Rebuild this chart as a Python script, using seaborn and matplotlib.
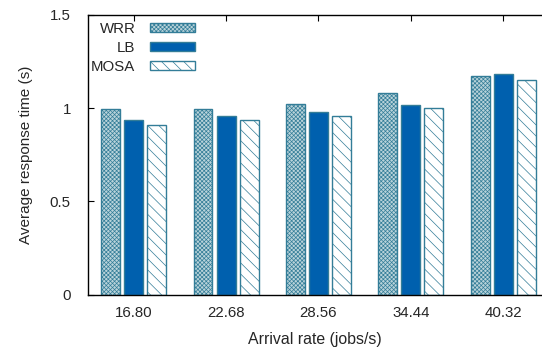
import matplotlib
matplotlib.use("Agg")
import matplotlib.pyplot as plt
import seaborn as sns
import pandas as pd

rates = ["16.80", "22.68", "28.56", "34.44", "40.32"]
methods = ["WRR", "LB", "MOSA"]
wrr = [0.993, 0.998, 1.025, 1.079, 1.172]
lb = [0.939, 0.960, 0.982, 1.015, 1.181]
mosa = [0.912, 0.939, 0.959, 1.002, 1.149]

df = pd.DataFrame({
    "rate": rates * 3,
    "time": wrr + lb + mosa,
    "method": ["WRR"] * 5 + ["LB"] * 5 + ["MOSA"] * 5,
})

sns.set_style("white")
plt.rcParams["font.family"] = ["Liberation Sans", "DejaVu Sans"]
plt.rcParams["hatch.linewidth"] = 0.5

edge = "#337d98"
fig = plt.figure(figsize=(5.42, 3.56), dpi=100)
ax = fig.add_axes([87.5 / 542, 1 - 294.5 / 356, 1 - 87.5 / 542, 279.5 / 356])

sns.barplot(data=df, x="rate", y="time", hue="method", hue_order=methods,
            palette={"WRR": "#b9d3da", "LB": "#0060ae", "MOSA": "white"},
            saturation=1, width=0.75, gap=0.18, legend=False, ax=ax,
            edgecolor=edge, linewidth=1.0)

hatches = ["xxxxxxxx", "", "\\\\\\"]
for cont, h in zip(ax.containers, hatches):
    for p in cont.patches:
        p.set_hatch(h)
        p.set_edgecolor(edge)

handles = [cont.patches[0] for cont in ax.containers]
ax.legend(handles, methods, loc="upper left", bbox_to_anchor=(-0.015, 1.012),
          frameon=False, markerfirst=False, fontsize=10.8,
          handlelength=3.0, handleheight=0.55, labelspacing=0.32,
          handletextpad=0.95, borderaxespad=0.3)

ax.set_xlim(-0.5, 4.42)
ax.set_ylim(0, 1.5)
ax.set_yticks([0, 0.5, 1, 1.5])
ax.set_yticklabels(["0", "0.5", "1", "1.5"])
ax.tick_params(axis="both", direction="in", length=4, labelsize=10.8, color="black")
ax.tick_params(axis="y", pad=12, left=True)
ax.tick_params(axis="x", pad=8, bottom=True, top=True)
ax.set_xlabel("Arrival rate (jobs/s)", fontsize=11.4, labelpad=9)
ax.set_ylabel("Average response time (s)", fontsize=11, labelpad=12)

for s in ["left", "bottom", "top"]:
    ax.spines[s].set_color("black")
    ax.spines[s].set_linewidth(1.0)
ax.spines["right"].set_visible(False)

fig.savefig("out.png", dpi=100)
